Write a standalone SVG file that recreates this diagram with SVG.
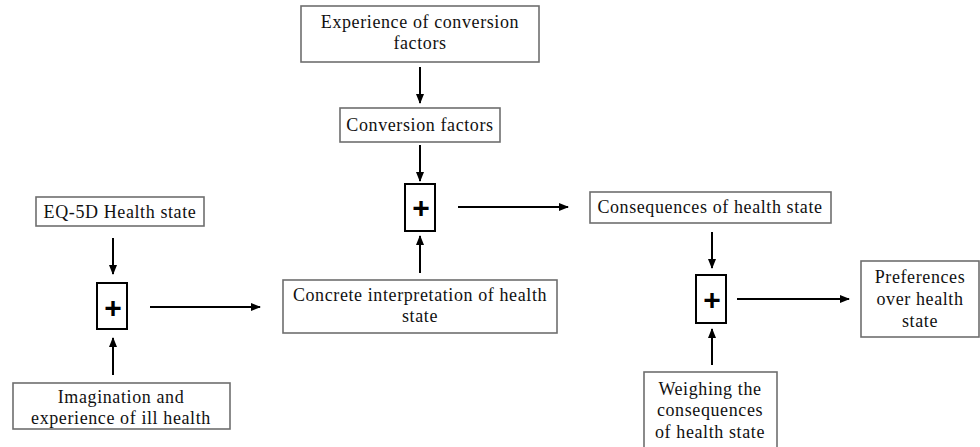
<svg xmlns="http://www.w3.org/2000/svg" width="980" height="447" viewBox="0 0 980 447">
<defs>
<marker id="ah" markerWidth="10" markerHeight="10" refX="9" refY="5" orient="auto" markerUnits="userSpaceOnUse">
<path d="M0,1 L10,5 L0,9 Z" fill="#000"/>
</marker>
<style>
.box{fill:#fff;stroke:#6e6e6e;stroke-width:1.6}
.op{fill:#fff;stroke:#000;stroke-width:2}
.t{font-family:"Liberation Serif","Times New Roman",serif;font-size:18px;fill:#111;text-anchor:middle;letter-spacing:0.6px}
.plus{font-family:"Liberation Sans",Arial,sans-serif;font-size:30px;font-weight:bold;fill:#000;text-anchor:middle}
.c{stroke:#000;stroke-width:2;fill:none;marker-end:url(#ah)}
</style>
</defs>
<rect width="980" height="447" fill="#fff"/>
<g id="connectors">
<line class="c" x1="113" y1="238" x2="113" y2="274"/>
<line class="c" x1="113" y1="375" x2="113" y2="338"/>
<line class="c" x1="150" y1="307" x2="260" y2="307"/>
<line class="c" x1="420" y1="67" x2="420" y2="103"/>
<line class="c" x1="420" y1="145" x2="420" y2="181"/>
<line class="c" x1="420" y1="273" x2="420" y2="236"/>
<line class="c" x1="458" y1="207" x2="568" y2="207"/>
<line class="c" x1="712" y1="232" x2="712" y2="268"/>
<line class="c" x1="712" y1="365" x2="712" y2="329"/>
<line class="c" x1="737" y1="299" x2="849" y2="299"/>
</g>
<g id="eq5d">
<rect class="box" x="36" y="197" width="168" height="29"/>
<text class="t" x="120" y="218">EQ-5D Health state</text>
</g>
<g id="imagination">
<rect class="box" x="13" y="383" width="217" height="46"/>
<text class="t" x="121" y="403">Imagination and</text>
<text class="t" x="121" y="424">experience of ill health</text>
</g>
<g id="plus1">
<rect class="op" x="97" y="283" width="30" height="46"/>
<text class="plus" x="113" y="318">+</text>
</g>
<g id="experience">
<rect class="box" x="301" y="6" width="238" height="56"/>
<text class="t" x="420" y="28">Experience of conversion</text>
<text class="t" x="420" y="49">factors</text>
</g>
<g id="conversion">
<rect class="box" x="340" y="108" width="160" height="34"/>
<text class="t" x="420" y="131">Conversion factors</text>
</g>
<g id="plus2">
<rect class="op" x="405" y="184" width="30" height="47"/>
<text class="plus" x="421" y="218">+</text>
</g>
<g id="concrete">
<rect class="box" x="283" y="280" width="274" height="53"/>
<text class="t" x="420" y="301">Concrete interpretation of health</text>
<text class="t" x="420" y="322">state</text>
</g>
<g id="consequences">
<rect class="box" x="590" y="192" width="241" height="31"/>
<text class="t" x="710" y="213">Consequences of health state</text>
</g>
<g id="plus3">
<rect class="op" x="696" y="275" width="30" height="48"/>
<text class="plus" x="712" y="310">+</text>
</g>
<g id="preferences">
<rect class="box" x="861" y="261" width="118" height="76"/>
<text class="t" x="920" y="283">Preferences</text>
<text class="t" x="920" y="305">over health</text>
<text class="t" x="920" y="327">state</text>
</g>
<g id="weighing">
<rect class="box" x="644" y="372" width="133" height="80"/>
<text class="t" x="710" y="395">Weighing the</text>
<text class="t" x="710" y="416">consequences</text>
<text class="t" x="710" y="438">of health state</text>
</g>
</svg>
